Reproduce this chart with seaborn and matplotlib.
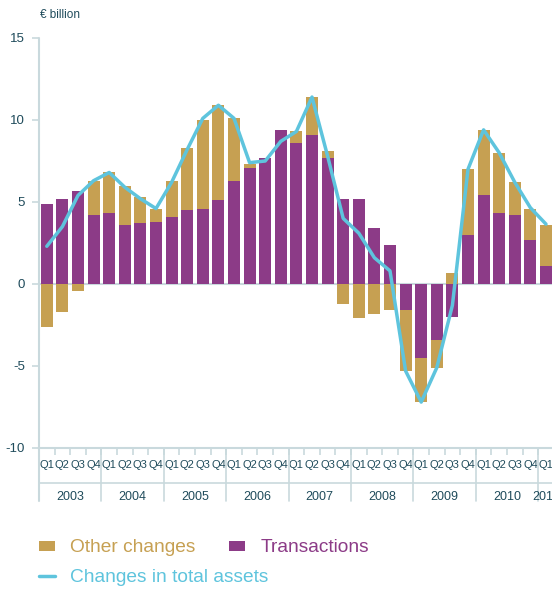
"""Quarterly changes in total assets: transactions vs other changes."""

import matplotlib
matplotlib.use("Agg")
import matplotlib.pyplot as plt
import matplotlib.transforms as mtransforms
from matplotlib.lines import Line2D
from matplotlib.patches import Patch
import numpy as np
import pandas as pd
import seaborn as sns

quarter_labels = ["Q1", "Q2", "Q3", "Q4"] * 8 + ["Q1"]
years = ["2003", "2004", "2005", "2006", "2007", "2008", "2009", "2010", "2011"]

transactions = [4.9, 5.2, 5.7, 4.2, 4.3, 3.6, 3.7, 3.8, 4.1, 4.5, 4.6, 5.1,
                6.3, 7.1, 7.7, 9.4, 8.6, 9.1, 7.7, 5.2, 5.2, 3.4, 2.4, -1.6,
                -4.5, -3.4, -2.0, 3.0, 5.4, 4.3, 4.2, 2.7, 1.1]
other_changes = [-2.6, -1.7, -0.4, 2.1, 2.5, 2.4, 1.6, 0.8, 2.2, 3.8, 5.4, 5.8,
                 3.8, 0.2, 0.0, 0.0, 0.7, 2.3, 0.4, -1.2, -2.1, -1.8, -1.6, -3.7,
                 -2.7, -1.7, 0.7, 4.0, 4.0, 3.7, 2.0, 1.9, 2.5]
total_assets = [2.3, 3.5, 5.4, 6.3, 6.8, 5.9, 5.2, 4.6, 6.2, 8.2, 10.1, 10.9,
                10.1, 7.4, 7.5, 8.7, 9.3, 11.4, 7.8, 4.0, 3.1, 1.6, 0.8, -5.3,
                -7.2, -5.1, -1.3, 7.0, 9.4, 8.0, 6.2, 4.65, 3.65]

GOLD = "#C6A052"
PURPLE = "#8C3B87"
BLUE = "#5EC4DD"
TEXT = "#1F4B5B"
RULE = "#C9D9DD"

sns.set_theme(style="white")
plt.rcParams["font.family"] = ["Liberation Sans", "DejaVu Sans"]
plt.rcParams["axes.unicode_minus"] = False

n = len(quarter_labels)
df = pd.DataFrame({
    "pos": np.arange(n),
    "transactions": transactions,
    "other": other_changes,
    "total": total_assets,
})
# other changes stack on the transaction bar when they share its sign
df["base"] = np.where(np.sign(df["other"]) == np.sign(df["transactions"]),
                      df["transactions"], 0.0)

fig = plt.figure(figsize=(5.52, 5.90), dpi=100)
ax = fig.add_axes([39 / 552, 142 / 590, 514.8 / 552, 410 / 590])

ax.axhline(0, color=RULE, lw=1.5, zorder=0)
sns.barplot(data=df, x="pos", y="transactions", color=PURPLE, saturation=1,
            width=0.77, errorbar=None, ax=ax, zorder=2, linewidth=0)
sns.barplot(data=df, x="pos", y="other", color=GOLD, saturation=1,
            width=0.77, errorbar=None, ax=ax, zorder=2, linewidth=0,
            bottom=df["base"].values)
sns.lineplot(data=df, x="pos", y="total", color=BLUE, lw=2.5, ax=ax, zorder=3)

ax.set_xlim(-0.5, n - 0.5)
ax.set_ylim(-10, 15)
ax.set_xlabel("")
ax.set_ylabel("")

for side in ["top", "right", "left"]:
    ax.spines[side].set_visible(False)
ax.spines["bottom"].set_color(RULE)
ax.spines["bottom"].set_linewidth(1.5)

ax.set_yticks([-10, -5, 0, 5, 10, 15])
ax.tick_params(axis="y", which="major", direction="out", length=5, width=1.2,
               color=RULE, pad=5, labelsize=9.5, labelcolor=TEXT, left=True)

ax.set_xticks(np.arange(n))
ax.set_xticklabels(quarter_labels)
ax.tick_params(axis="x", which="major", length=0, pad=9, labelsize=8,
               labelcolor=TEXT)
ax.set_xticks(np.arange(n + 1) - 0.5, minor=True)
ax.tick_params(axis="x", which="minor", direction="out", length=5, width=1.2,
               color=RULE, bottom=True)

# y axis rule extended into the category band
trans = mtransforms.blended_transform_factory(ax.transData, ax.transAxes)
ax.plot([-0.5, -0.5], [-0.129, 1.0], color=RULE, lw=1.5, transform=trans,
        clip_on=False)
ax.plot([-0.5, n - 0.5], [-0.0854, -0.0854], color=RULE, lw=1.2,
        transform=trans, clip_on=False)
for k in range(1, len(years)):
    ax.plot([4 * k - 0.5, 4 * k - 0.5], [-0.129, 0], color=RULE, lw=1.2,
            transform=trans, clip_on=False)
for k, yr in enumerate(years):
    xc = 4 * k + 1.5 if k < len(years) - 1 else n - 1
    ax.text(xc, -0.1195, yr, transform=trans, ha="center", va="center",
            fontsize=9, color=TEXT, clip_on=False)

fig.text(40 / 552, 1 - 15 / 590, "€ billion", ha="left", va="center",
         fontsize=8.5, color=TEXT)

leg_kw = dict(loc="center left", frameon=False, fontsize=13.8,
              handlelength=0.82, handleheight=0.45, handletextpad=0.82,
              columnspacing=1.75, borderpad=0, borderaxespad=0)
leg1 = fig.legend([Patch(facecolor=GOLD, edgecolor="none"),
                   Patch(facecolor=PURPLE, edgecolor="none")],
                  ["Other changes", "Transactions"], ncol=2,
                  bbox_to_anchor=(39 / 552, 1 - 548 / 590), **leg_kw)
for txt, col in zip(leg1.get_texts(), [GOLD, PURPLE]):
    txt.set_color(col)
leg2 = fig.legend([Line2D([0], [0], color=BLUE, lw=2.5)],
                  ["Changes in total assets"],
                  bbox_to_anchor=(39 / 552, 1 - 577 / 590), **leg_kw)
leg2.get_texts()[0].set_color(BLUE)

fig.savefig("out.png", dpi=100)
